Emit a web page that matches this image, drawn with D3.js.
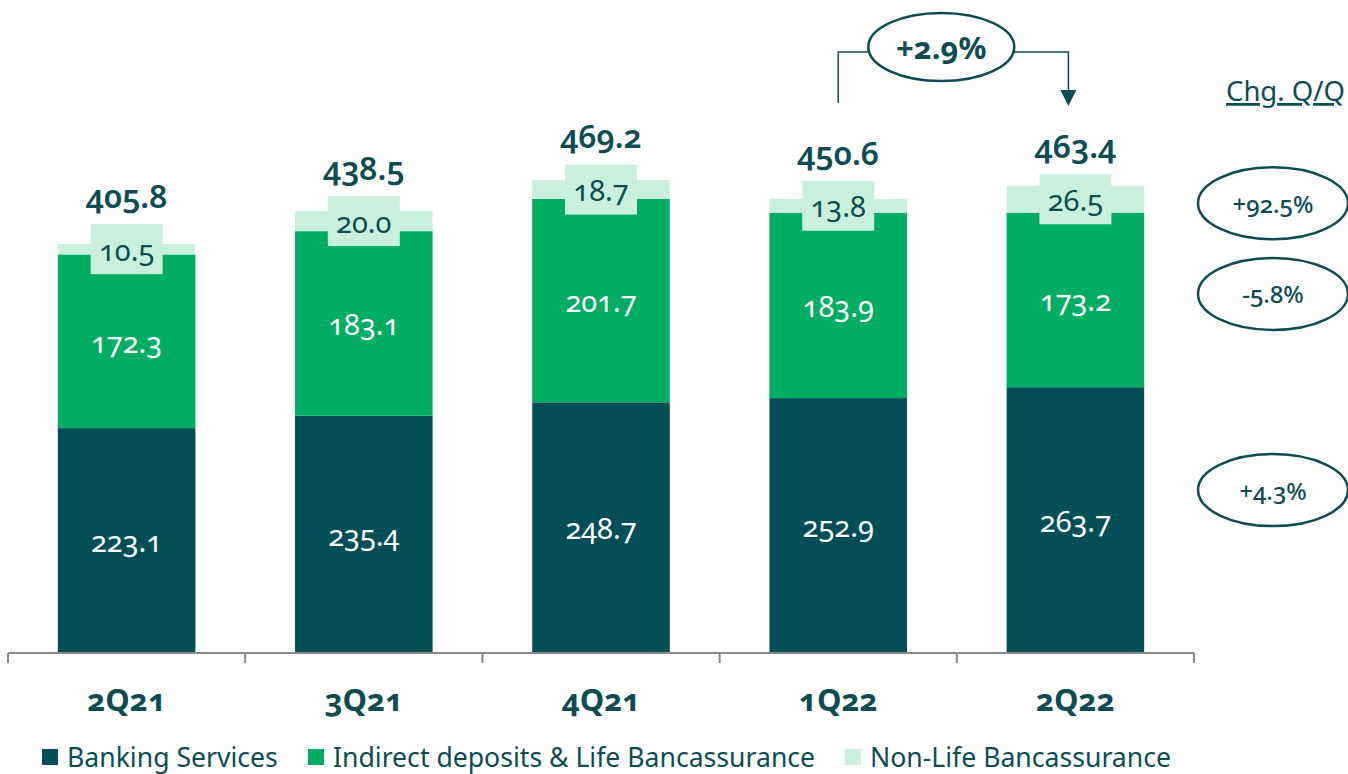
<!DOCTYPE html>
<html>
<head>
<meta charset="utf-8">
<script src="https://cdn.jsdelivr.net/npm/d3@7"></script>
<style>
  html, body { margin: 0; padding: 0; background: #fff; }
  svg { display: block; font-family: "Noto Sans", "Open Sans", sans-serif; font-variant-numeric: oldstyle-nums; }
</style>
</head>
<body>
<svg id="chart"></svg>
<script>
// DATA
const quarters = ["2Q21", "3Q21", "4Q21", "1Q22", "2Q22"];
const banking = [223.1, 235.4, 248.7, 252.9, 263.7];
const indirect = [172.3, 183.1, 201.7, 183.9, 173.2];
const nonLife = [10.5, 20.0, 18.7, 13.8, 26.5];
const totals = [405.8, 438.5, 469.2, 450.6, 463.4];
const seriesNames = ["Banking Services", "Indirect deposits & Life Bancassurance", "Non-Life Bancassurance"];
const seriesChg = ["+4.3%", "-5.8%", "+92.5%"];
const totalChg = "+2.9%";
const chgTitle = "Chg. Q/Q";

// SETTINGS
const W = 1348, H = 774;
const dark = "#034f57", green = "#00ad62", light = "#c9f0dd", ink = "#0b4d53";
const colors = [dark, green, light];

const svg = d3.select("#chart").attr("width", W).attr("height", H);

const x = d3.scaleBand().domain(quarters).range([8, 1194])
  .paddingInner(0.42).paddingOuter(0.21);
const y = d3.scaleLinear().domain([0, 500]).range([653, 149]);

const rows = quarters.map((q, i) => ({ q: q, vals: [banking[i], indirect[i], nonLife[i]], total: totals[i] }));
const stack = d3.stack().keys([0, 1, 2]).value((d, k) => d.vals[k])(rows);

// bars
stack.forEach((layer, k) => {
  svg.append("g").selectAll("rect").data(layer).enter().append("rect")
    .attr("x", d => x(d.data.q))
    .attr("y", d => y(d[1]))
    .attr("width", x.bandwidth())
    .attr("height", d => y(d[0]) - y(d[1]))
    .attr("fill", colors[k]);
});

// segment labels
stack.forEach((layer, k) => {
  const g = svg.append("g");
  layer.forEach(d => {
    const cx = x(d.data.q) + x.bandwidth() / 2;
    const cy = (y(d[0]) + y(d[1])) / 2;
    if (k === 2) {
      g.append("rect").attr("x", cx - 36).attr("y", cy - 25)
        .attr("width", 72).attr("height", 50).attr("fill", light);
    }
    g.append("text").attr("x", cx).attr("y", cy)
      .attr("text-anchor", "middle").attr("dominant-baseline", "central")
      .attr("font-size", 29)
      .attr("fill", k === 2 ? ink : "#fff")
      .text(d.data.vals[k].toFixed(1));
  });
});

// totals
rows.forEach(d => {
  const mid = (y(d.total) + y(d.total - d.vals[2])) / 2;
  svg.append("text")
    .attr("x", x(d.q) + x.bandwidth() / 2)
    .attr("y", mid - 25 - 16)
    .attr("text-anchor", "middle")
    .attr("font-size", 32).attr("font-weight", 600).attr("fill", ink)
    .text(d.total.toFixed(1));
});

// axis
const step = x.step();
const axisG = svg.append("g").attr("stroke", "#8a8a8a").attr("stroke-width", 2);
axisG.append("line").attr("x1", x.range()[0]).attr("x2", x.range()[1]).attr("y1", y(0)).attr("y2", y(0));
d3.range(quarters.length + 1).forEach(i => {
  const tx = x.range()[0] + i * step;
  axisG.append("line").attr("x1", tx).attr("x2", tx).attr("y1", y(0)).attr("y2", y(0) + 10);
});
svg.append("g").selectAll("text").data(quarters).enter().append("text")
  .attr("x", d => x(d) + x.bandwidth() / 2)
  .attr("y", 711)
  .attr("text-anchor", "middle")
  .attr("font-size", 31).attr("font-weight", 700).attr("fill", ink)
  .text(d => d);

// legend
const legendX = [42, 308, 845];
seriesNames.forEach((n, k) => {
  svg.append("rect").attr("x", legendX[k]).attr("y", 749).attr("width", 16).attr("height", 16).attr("fill", colors[k]);
  svg.append("text").attr("x", legendX[k] + 25).attr("y", 767)
    .attr("font-size", 26.6).attr("fill", ink).text(n);
});

// total change bracket
const c1 = x("1Q22") + x.bandwidth() / 2;
const c2 = x("2Q22") + x.bandwidth() / 2 - 7;
svg.append("path")
  .attr("d", `M${c1},103 V52 H${c2} V92`)
  .attr("fill", "none").attr("stroke", ink).attr("stroke-width", 1.5);
svg.append("path")
  .attr("d", `M${c2 - 8},90 L${c2 + 8},90 L${c2},106 Z`).attr("fill", ink);
const ex = (c1 + c2) / 2 - 12;
svg.append("ellipse").attr("cx", ex).attr("cy", 47).attr("rx", 73).attr("ry", 34)
  .attr("fill", "#fff").attr("stroke", ink).attr("stroke-width", 2.5);
svg.append("text").attr("x", ex).attr("y", 47).attr("text-anchor", "middle")
  .attr("dominant-baseline", "central").attr("font-size", 31).attr("font-weight", 700)
  .attr("fill", ink).text(totalChg);

// Q/Q change ellipses
svg.append("text").attr("x", 1345).attr("y", 101).attr("text-anchor", "end")
  .attr("font-size", 27.5).attr("fill", ink)
  .attr("text-decoration", "underline").text(chgTitle);
const last = stack.map(layer => layer[layer.length - 1]);
const chgOffset = [-30, -6, 4];
seriesChg.forEach((t, k) => {
  const cy = (y(last[k][0]) + y(last[k][1])) / 2 + chgOffset[k];
  svg.append("ellipse").attr("cx", 1273).attr("cy", cy).attr("rx", 75).attr("ry", 36)
    .attr("fill", "#fff").attr("stroke", ink).attr("stroke-width", 2.5);
  svg.append("text").attr("x", 1273).attr("y", cy).attr("text-anchor", "middle")
    .attr("dominant-baseline", "central").attr("font-size", 24).attr("font-weight", 500)
    .attr("fill", ink).text(t);
});
</script>
</body>
</html>
